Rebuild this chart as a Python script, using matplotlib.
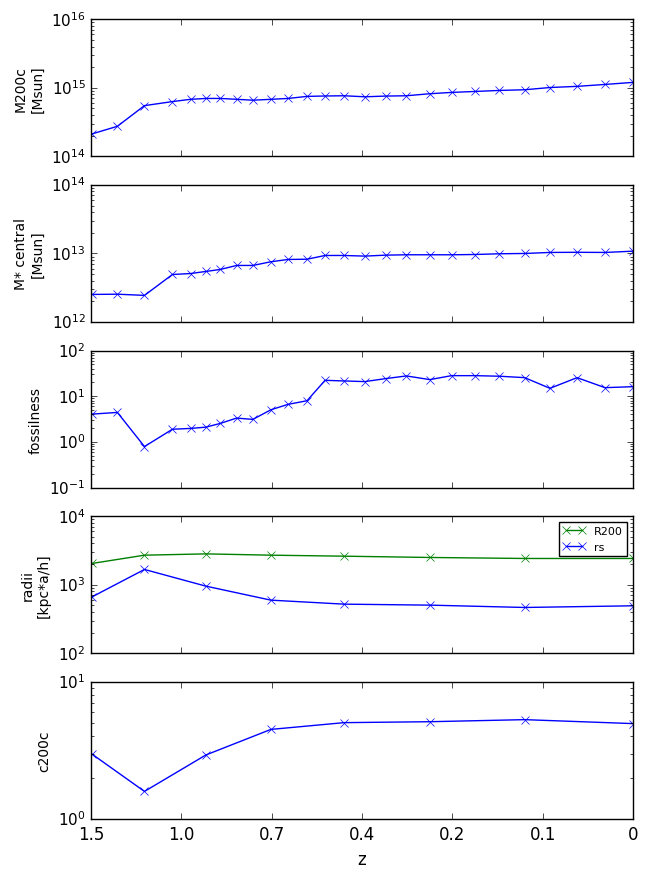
import matplotlib
matplotlib.use('Agg')
import matplotlib.pyplot as plt
from matplotlib.ticker import NullFormatter

# scale factor of the snapshots (x axis is a, labelled with z)
a_snap = [0.401, 0.429, 0.459, 0.490, 0.510, 0.527, 0.543, 0.561, 0.579,
          0.599, 0.618, 0.639, 0.659, 0.680, 0.703, 0.726, 0.749, 0.775,
          0.799, 0.825, 0.852, 0.880, 0.908, 0.938, 0.969, 1.000]
# subset used for the profile fits
a_fit = [0.401, 0.459, 0.527, 0.599, 0.680, 0.775, 0.880, 1.000]

m200c = [2.13e14, 2.75e14, 5.5e14, 6.3e14, 6.8e14, 7.0e14, 7.0e14, 6.8e14,
         6.6e14, 6.8e14, 7.0e14, 7.5e14, 7.6e14, 7.66e14, 7.4e14, 7.58e14,
         7.66e14, 8.2e14, 8.57e14, 8.85e14, 9.16e14, 9.37e14, 1.01e15,
         1.05e15, 1.12e15, 1.2e15]
mstar_central = [2.53e12, 2.55e12, 2.45e12, 4.94e12, 5.1e12, 5.47e12, 5.85e12,
                 6.69e12, 6.69e12, 7.57e12, 8.18e12, 8.25e12, 9.35e12, 9.35e12,
                 9.15e12, 9.45e12, 9.57e12, 9.57e12, 9.57e12, 9.66e12, 9.9e12,
                 1.0e13, 1.035e13, 1.04e13, 1.035e13, 1.08e13]
fossilness = [4.07, 4.43, 0.795, 1.9, 1.98, 2.11, 2.55, 3.33, 3.12, 5.06, 6.65,
              7.98, 22.3, 21.6, 20.9, 24.3, 27.8, 23.1, 28.2, 28.2, 27.4, 25.5,
              14.9, 25.5, 15.4, 16.2]
r200 = [2046, 2700, 2820, 2700, 2610, 2500, 2417, 2417]
rs = [667, 1672, 955, 597, 522, 505, 467, 494]
c200c = [2.97, 1.59, 2.93, 4.5, 5.04, 5.12, 5.3, 4.96]

xticks = [0.4, 0.5, 0.6, 0.7, 0.8, 0.9, 1.0]
xticklabels = ['1.5', '1.0', '0.7', '0.4', '0.2', '0.1', '0']

plt.style.use('classic')
plt.rcParams['axes.unicode_minus'] = False

fig, axes = plt.subplots(5, 1, figsize=(6.56, 8.78), sharex=True)
fig.subplots_adjust(left=0.139, right=0.965, top=0.977, bottom=0.066, hspace=0.207)

axes[0].plot(a_snap, m200c, 'bx-')
axes[0].set_ylabel("M200c\n[Msun]", fontsize=10)
axes[0].set_ylim(1e14, 1e16)

axes[1].plot(a_snap, mstar_central, 'bx-')
axes[1].set_ylabel("M* central\n[Msun]", fontsize=10)
axes[1].set_ylim(1e12, 1e14)

axes[2].plot(a_snap, fossilness, 'bx-')
axes[2].set_ylabel("fossilness", fontsize=10)
axes[2].set_ylim(1e-1, 1e2)

axes[3].plot(a_fit, r200, 'gx-', label='R200')
axes[3].plot(a_fit, rs, 'bx-', label='rs')
axes[3].set_ylabel("radii\n[kpc*a/h]", fontsize=10)
axes[3].set_ylim(1e2, 1e4)
axes[3].legend(loc='upper right', fontsize=8, numpoints=2)

axes[4].plot(a_fit, c200c, 'bx-')
axes[4].set_ylabel("c200c", fontsize=10)
axes[4].set_ylim(1, 10)

for ax in axes:
    ax.set_yscale('log')
    ax.yaxis.set_minor_formatter(NullFormatter())
    ax.tick_params(axis='y', labelsize=11)
    ax.tick_params(axis='x', labelsize=12)

axes[4].set_xlim(0.4, 1.0)
axes[4].set_xticks(xticks)
axes[4].set_xticklabels(xticklabels)
axes[4].set_xlabel("z", fontsize=12)

fig.savefig('out.png', dpi=100)
